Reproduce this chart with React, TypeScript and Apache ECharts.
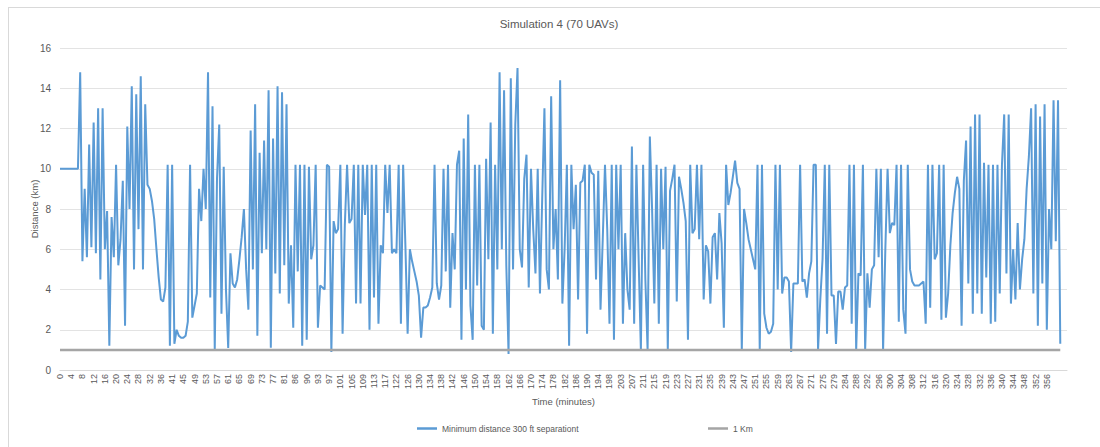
import React, { useEffect, useRef } from "react";
import * as echarts from "echarts";

const tickLabels = [
  "0", "4", "8", "12", "16", "20", "24", "28", "32", "36",
  "41", "45", "49", "53", "57", "61", "65", "69", "73", "77",
  "81", "86", "90", "93", "97", "101", "105", "109", "113", "117",
  "122", "126", "130", "134", "138", "142", "146", "150", "154", "158",
  "162", "166", "170", "174", "178", "182", "186", "190", "194", "198",
  "203", "207", "211", "215", "219", "223", "227", "231", "235", "239",
  "243", "247", "251", "255", "259", "263", "267", "271", "275", "279",
  "284", "288", "292", "296", "300", "304", "308", "312", "316", "320",
  "324", "328", "332", "336", "340", "344", "348", "352", "356",
];

const seriesNames = ["Minimum distance 300 ft separationt", "1 Km"];

const minDistance = [
  10, 10, 10, 10, 10, 10, 10, 10, 10, 14.8,
  5.4, 9.0, 5.6, 11.2, 6.1, 12.3, 5.8, 13.0, 4.5, 13.0,
  6.0, 7.9, 1.2, 7.6, 5.6, 10.2, 5.2, 6.5, 9.4, 2.2,
  12.1, 8.0, 14.1, 5.0, 13.7, 7.0, 14.6, 5.0, 13.2, 9.2,
  9.0, 8.4, 7.5, 6.0, 4.6, 3.5, 3.4, 4.1, 10.2, 1.2,
  10.2, 1.3, 2.0, 1.7, 1.6, 1.6, 1.7, 2.4, 10.2, 2.6,
  3.2, 3.8, 9.0, 7.4, 10.0, 8.0, 14.8, 3.6, 13.1, 1.0,
  9.5, 12.2, 2.8, 10.1, 4.0, 1.1, 5.8, 4.3, 4.1, 4.5,
  5.5, 6.6, 8.0, 5.0, 3.0, 11.9, 5.0, 13.2, 1.7, 10.8,
  5.8, 11.4, 6.0, 13.9, 1.1, 11.5, 4.8, 14.1, 3.8, 13.8,
  5.2, 13.2, 3.3, 6.2, 2.1, 10.2, 4.9, 10.2, 1.2, 10.2,
  1.5, 10.1, 5.5, 6.2, 10.2, 2.1, 4.2, 4.1, 4.0, 10.2,
  10.1, 0.9, 7.4, 6.8, 7.0, 10.2, 1.8, 7.2, 10.2, 7.3,
  7.5, 10.2, 3.3, 10.2, 3.3, 10.2, 7.7, 10.2, 2.0, 10.2,
  3.6, 10.2, 2.3, 6.2, 5.8, 10.2, 7.8, 10.2, 5.8, 6.0,
  5.8, 10.2, 2.3, 10.2, 6.2, 1.8, 6.0, 5.4, 4.9, 4.4,
  3.7, 1.6, 3.1, 3.1, 3.2, 3.6, 4.1, 10.2, 4.3, 3.5,
  4.2, 10.0, 4.9, 10.2, 3.1, 6.8, 5.0, 10.2, 10.9, 1.5,
  11.5, 4.0, 12.7, 3.2, 1.5, 10.2, 4.2, 10.2, 2.2, 2.0,
  10.5, 5.5, 12.3, 1.8, 10.2, 5.0, 14.8, 6.0, 13.9, 5.2,
  0.8, 14.5, 5.0, 12.2, 15.0, 6.0, 5.1, 9.5, 10.7, 4.1,
  10.0, 7.0, 4.8, 10.0, 3.8, 8.5, 13.0, 5.0, 4.0, 13.6,
  6.0, 8.0, 4.5, 14.4, 3.3, 6.0, 10.2, 1.2, 10.2, 7.0,
  9.2, 3.5, 9.3, 9.4, 10.2, 1.8, 10.2, 9.8, 9.7, 4.5,
  9.9, 3.0, 6.5, 10.2, 7.0, 2.3, 10.2, 1.5, 10.2, 6.0,
  10.2, 2.3, 6.8, 4.0, 3.0, 11.1, 2.3, 10.2, 5.5, 1.0,
  10.2, 4.5, 1.0, 11.6, 8.0, 3.3, 10.2, 2.3, 10.0, 6.0,
  10.1, 1.0, 8.9, 9.5, 10.2, 3.4, 9.6, 9.0, 8.3, 7.4,
  1.5, 10.2, 6.8, 7.0, 10.2, 6.5, 10.2, 3.5, 6.2, 5.9,
  3.3, 6.6, 6.8, 4.5, 7.8, 6.3, 2.1, 10.2, 8.2, 8.8,
  9.6, 10.4, 9.3, 9.0, 1.0, 8.0, 7.3, 6.5, 6.0, 5.5,
  5.0, 10.2, 1.0, 10.2, 2.8, 2.1, 1.8, 1.9, 2.3, 10.2,
  4.0, 10.2, 3.8, 4.6, 4.6, 4.4, 0.9, 4.3, 4.3, 4.3,
  10.2, 4.4, 4.5, 3.6, 4.8, 5.4, 10.2, 10.2, 1.0, 3.5,
  5.5, 10.2, 1.8, 10.2, 3.7, 3.7, 1.3, 3.9, 3.9, 3.0,
  4.1, 4.2, 10.2, 2.3, 10.2, 1.0, 4.8, 4.7, 10.2, 1.0,
  4.8, 3.1, 5.0, 5.2, 10.0, 5.6, 10.0, 1.0, 6.0, 10.0,
  6.8, 7.3, 7.2, 10.2, 2.4, 10.2, 3.0, 1.8, 10.2, 5.0,
  4.4, 4.2, 4.2, 4.2, 4.3, 4.4, 2.3, 10.2, 3.1, 10.2,
  5.5, 5.8, 10.2, 2.5, 10.2, 2.6, 3.8, 6.2, 7.8, 8.8,
  9.6, 9.0, 2.2, 9.4, 11.4, 4.3, 12.1, 2.8, 12.7, 3.8,
  12.7, 2.8, 10.3, 4.6, 10.2, 2.3, 10.2, 2.4, 10.2, 3.8,
  10.2, 12.7, 4.8, 12.7, 3.3, 6.0, 3.5, 7.3, 4.0, 5.5,
  6.5, 9.0, 10.6, 13.0, 3.8, 13.2, 2.2, 12.6, 4.3, 13.2,
  2.0, 8.0, 6.0, 13.4, 6.4, 13.4, 1.3,
];

const thresholdKm = 1;
const stepsPerTick = 5;
const totalCategories = 450;

const FONT = "'Liberation Sans', Arial, sans-serif";
const TEXT = "#595959";

export default function App() {
  const ref = useRef<HTMLDivElement>(null);

  useEffect(() => {
    if (!ref.current) return;
    const chart = echarts.init(ref.current, null, { renderer: "svg" });

    const categories = Array.from({ length: totalCategories }, (_, i) =>
      i % stepsPerTick === 0 && i / stepsPerTick < tickLabels.length
        ? tickLabels[i / stepsPerTick]
        : ""
    );
    const thresholdData = minDistance.map(() => thresholdKm);

    chart.setOption({
      animation: false,
      backgroundColor: "#ffffff",
      textStyle: { fontFamily: FONT },
      title: {
        text: "Simulation 4 (70 UAVs)",
        left: 554,
        top: 13,
        textAlign: "center",
        textStyle: { fontSize: 11.5, fontWeight: "normal", color: TEXT, fontFamily: FONT },
      },
      graphic: [
        { type: "line", shape: { x1: 8, y1: 7.5, x2: 1100, y2: 7.5 }, style: { stroke: "#d9d9d9", lineWidth: 1 } },
        { type: "line", shape: { x1: 8.5, y1: 7, x2: 8.5, y2: 447 }, style: { stroke: "#d9d9d9", lineWidth: 1 } },
      ],
      legend: [
        {
          data: [seriesNames[0]],
          left: 412,
          top: 419,
          icon: "rect",
          itemWidth: 20,
          itemHeight: 2.5,
          itemGap: 4,
          textStyle: { fontSize: 8.5, color: TEXT, fontFamily: FONT },
        },
        {
          data: [seriesNames[1]],
          left: 703,
          top: 419,
          icon: "rect",
          itemWidth: 20,
          itemHeight: 2.5,
          textStyle: { fontSize: 8.5, color: TEXT, fontFamily: FONT },
        },
      ],
      grid: { left: 60, right: 33, top: 48, bottom: 77, containLabel: false },
      xAxis: {
        type: "category",
        data: categories,
        boundaryGap: false,
        name: "Time (minutes)",
        nameLocation: "middle",
        nameGap: 25,
        nameTextStyle: { fontSize: 9.5, color: TEXT, fontFamily: FONT },
        axisLine: { show: true, lineStyle: { color: "#d9d9d9", width: 1 } },
        axisTick: { show: false },
        axisLabel: {
          interval: stepsPerTick - 1,
          rotate: 90,
          fontSize: 9,
          color: TEXT,
          margin: 4,
          fontFamily: FONT,
        },
        splitLine: { show: false },
      },
      yAxis: {
        type: "value",
        min: 0,
        max: 16,
        interval: 2,
        name: "Distance (km)",
        nameLocation: "middle",
        nameGap: 21,
        nameMoveOverlap: false,
        nameTextStyle: { fontSize: 9.5, color: TEXT, fontFamily: FONT },
        axisLine: { show: false },
        axisTick: { show: false },
        axisLabel: { fontSize: 10, color: TEXT, margin: 9, fontFamily: FONT },
        splitLine: { show: true, lineStyle: { color: "#e3e3e3", width: 1 } },
      },
      series: [
        {
          name: seriesNames[0],
          type: "line",
          data: minDistance,
          showSymbol: false,
          symbol: "none",
          color: "#5b9bd5",
          lineStyle: { color: "#5b9bd5", width: 2 },
        },
        {
          name: seriesNames[1],
          type: "line",
          data: thresholdData,
          showSymbol: false,
          symbol: "none",
          color: "#a5a5a5",
          lineStyle: { color: "#a5a5a5", width: 2.5 },
        },
      ],
    });

    return () => chart.dispose();
  }, []);

  return (
    <div style={{ position: "fixed", left: 0, top: 0, width: 1100, height: 447, background: "#fff" }}>
      <div ref={ref} style={{ width: 1100, height: 447 }} />
    </div>
  );
}
